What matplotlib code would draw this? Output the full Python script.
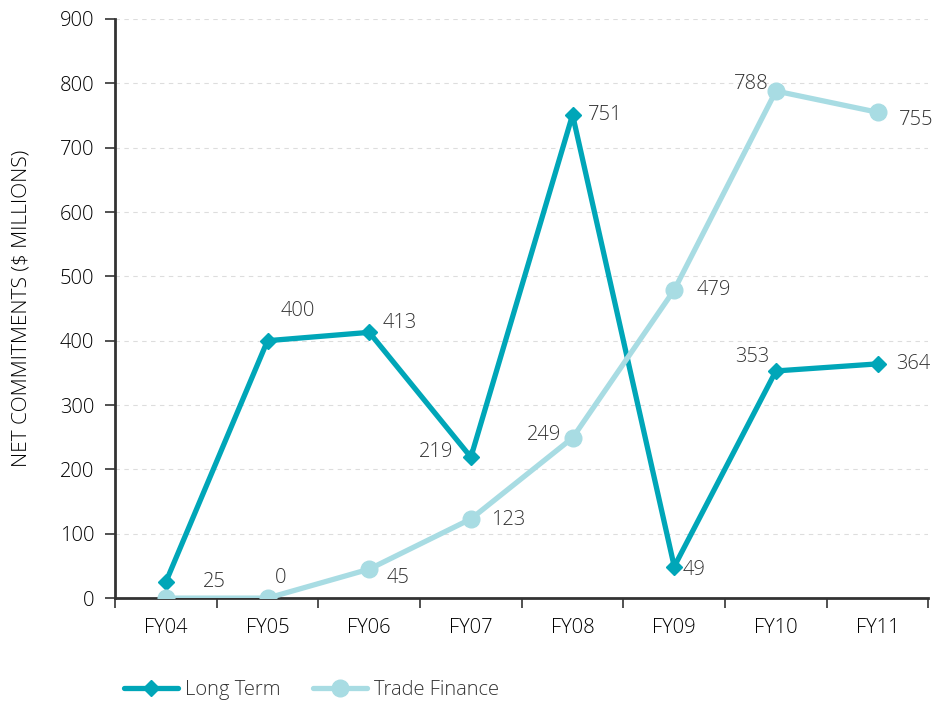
import matplotlib
matplotlib.use('Agg')
import matplotlib.pyplot as plt
import numpy as np
from matplotlib.ticker import MultipleLocator, FixedLocator

plt.rcParams['font.family'] = ['Open Sans', 'DejaVu Sans']
plt.rcParams['font.weight'] = 'light'
plt.rcParams['axes.labelweight'] = 'light'
plt.rcParams['text.color'] = '#333333'

years = ['FY04', 'FY05', 'FY06', 'FY07', 'FY08', 'FY09', 'FY10', 'FY11']
long_term = [25, 400, 413, 219, 751, 49, 353, 364]
trade_finance = [0, 0, 45, 123, 249, 479, 788, 755]

# label offsets in pixels (dx, dy up); None = no label
lt_off = [(49, 0), (30, 30), (31, 9), (-35, 5), (33, 0), (20, -3), (-24, 14), (36, 0)]
tf_off = [None, (13, 20), (29, -9), (37, -1), (-29, 3), (40, 0), (-25, 7), (39, -8)]

c_lt = '#00A6B8'
c_tf = '#A8DCE3'
fs = 14.5

fig = plt.figure(figsize=(9.35, 7.02), dpi=100)
ax = fig.add_axes([0.123, 0.148, 0.870, 0.825])

x = np.arange(len(years))
ax.plot(x, long_term, color=c_lt, lw=3.8, marker='D', ms=8, label='Long Term', zorder=3,
        solid_capstyle='round')
ax.plot(x, trade_finance, color=c_tf, lw=3.8, marker='o', ms=12, label='Trade Finance', zorder=4,
        solid_capstyle='round')

px = 0.72  # points per pixel
for i, v in enumerate(long_term):
    dx, dy = lt_off[i]
    ax.annotate(str(v), (i, v), xytext=(dx * px, dy * px), textcoords='offset points',
                ha='center', va='center', fontsize=fs, color='#333333', zorder=5)
for i, v in enumerate(trade_finance):
    if tf_off[i] is None:
        continue
    dx, dy = tf_off[i]
    ax.annotate(str(v), (i, v), xytext=(dx * px, dy * px), textcoords='offset points',
                ha='center', va='center', fontsize=fs, color='#333333', zorder=5)

ax.set_xlim(-0.5, 7.5)
ax.set_ylim(0, 900)
ax.yaxis.set_major_locator(MultipleLocator(100))
ax.set_xticks(x)
ax.set_xticklabels(years, fontsize=fs)
ax.xaxis.set_minor_locator(FixedLocator(np.arange(-0.5, 8, 1)))
ax.tick_params(axis='x', which='major', length=0, pad=14)
ax.tick_params(axis='x', which='minor', length=7, width=1.2, color='#333333')
ax.tick_params(axis='y', length=7, width=1.2, color='#333333', labelsize=fs, pad=8)

ax.grid(axis='y', color='#dddddd', ls=(0, (4, 4)), lw=0.8)
ax.set_axisbelow(True)
for s in ['top', 'right']:
    ax.spines[s].set_visible(False)
for s in ['left', 'bottom']:
    ax.spines[s].set_color('#333333')
    ax.spines[s].set_linewidth(2)

ax.set_ylabel('NET COMMITMENTS ($ MILLIONS)', fontsize=15, labelpad=20)

handles, labels = ax.get_legend_handles_labels()
fig.legend(handles, labels, loc='lower left', bbox_to_anchor=(0.113, -0.023),
           ncol=2, frameon=False, fontsize=fs, handlelength=2.7, columnspacing=1.6,
           handletextpad=0.35)

fig.savefig('out.png', dpi=100)
